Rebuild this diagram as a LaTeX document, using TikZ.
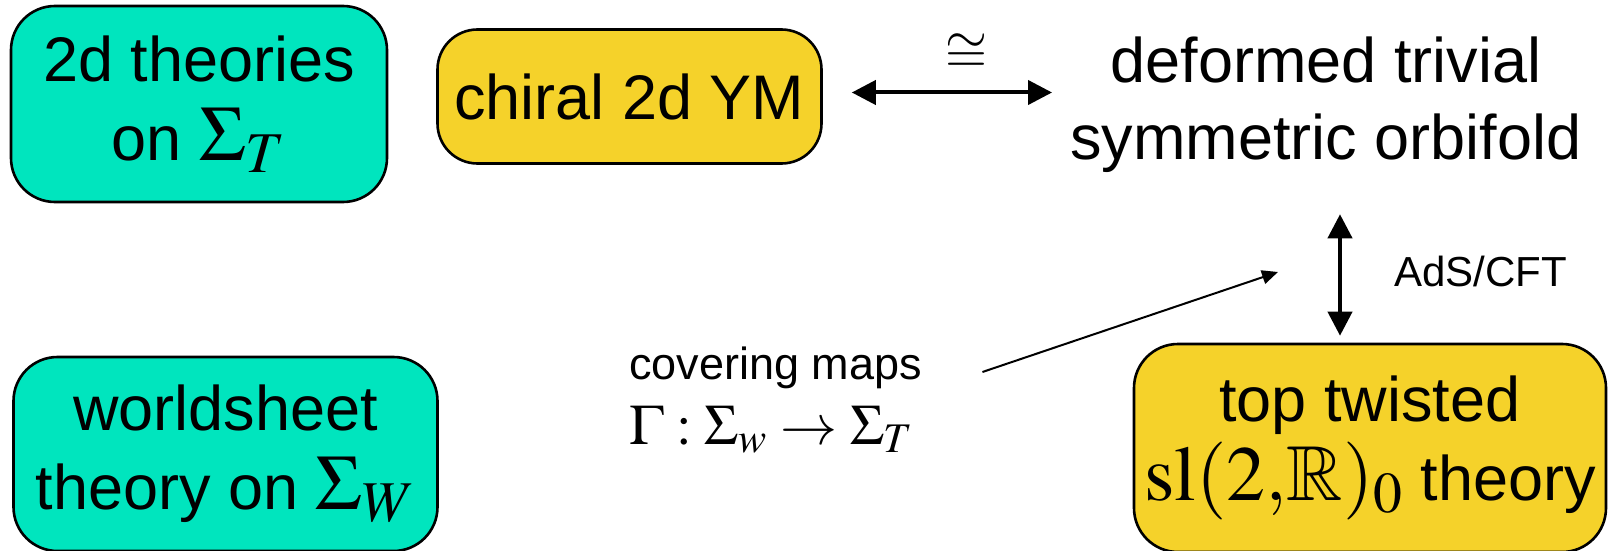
\documentclass[tikz,border=0pt]{standalone}
\usepackage{mathptmx}
\usepackage{amssymb}
\usepackage[no-math]{fontspec}
\setmainfont{Liberation Sans}
\usetikzlibrary{arrows.meta}
\definecolor{boxteal}{RGB}{0,229,190}
\definecolor{boxgold}{RGB}{245,210,42}
\newcommand{\bigmath}[1]{{\fontsize{39}{40}\selectfont$#1$}}
\begin{document}
\begin{tikzpicture}[x=0.5pt,y=-0.5pt,
  box/.style={draw,line width=1.3pt,rounded corners=22pt,align=center,inner sep=0pt,
    font=\fontsize{31.5}{39.5}\selectfont},
  tealbox/.style={box,fill=boxteal},
  goldbox/.style={box,fill=boxgold},
  dbl/.style={{Triangle[length=12pt,width=12pt]}-{Triangle[length=12pt,width=12pt]},line width=2pt},
  pointer/.style={-{Triangle[length=8pt,width=7pt]},line width=1pt}]
\useasboundingbox (0,0) rectangle (1612,551);
\node[tealbox,minimum width=188pt,minimum height=98pt] (theories) at (199,104)
  {2d theories\\on \bigmath{\Sigma_T}};
\node[goldbox,minimum width=192pt,minimum height=67pt,rounded corners=20pt] (chiral) at (629.5,96.5)
  {chiral 2d YM};
\node[align=center,inner sep=0pt,font=\fontsize{31.5}{38.5}\selectfont] (defo) at (1326,105)
  {deformed trivial\\symmetric orbifold};
\node[tealbox,minimum width=212pt,minimum height=97pt] (sheet) at (225.5,454)
  {worldsheet\\theory on \bigmath{\Sigma_W}};
\node[goldbox,minimum width=236pt,minimum height=104pt] (twisted) at (1370,448)
  {top twisted\\\bigmath{\mathrm{sl}(2{,}\mathbb{R})_0} theory};
\node[align=left,inner sep=0pt,anchor=north west,font=\fontsize{22.5}{32.5}\selectfont] (cov) at (629,346)
  {covering maps\\{\fontsize{28.5}{32.5}\selectfont$\Gamma:\Sigma_w\rightarrow\Sigma_T$}};
\coordinate (aim) at (1278,272);
\draw[dbl,shorten <=14.5pt,shorten >=9pt] ([yshift=2pt]chiral.east) -- ([yshift=2pt]chiral.east -| defo.west)
  node[pos=0.58,above=9pt,inner sep=0pt,font=\fontsize{27}{28}\selectfont] {$\cong$};
\draw[dbl,shorten <=20.5pt,shorten >=3.5pt] ([xshift=7pt]defo.south) -- ([xshift=7pt]defo.south |- twisted.north)
  node[pos=0.58,right=26pt,inner sep=0pt,font=\fontsize{21}{24}\selectfont] {AdS/CFT};
\draw[pointer] ([shift={(30pt,-13pt)}]cov.north east) -- (aim);
\end{tikzpicture}
\end{document}
